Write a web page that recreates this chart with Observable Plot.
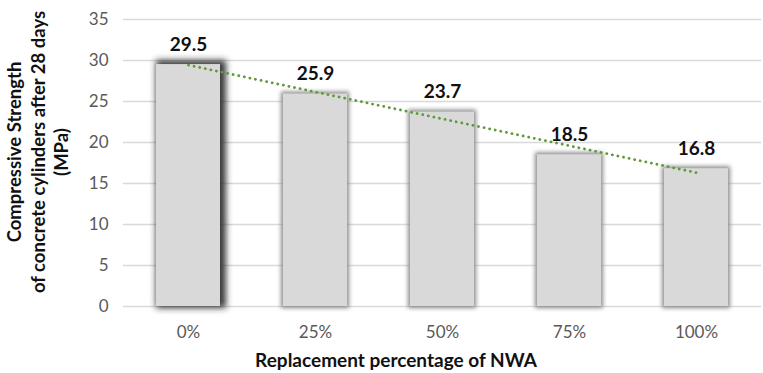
<!DOCTYPE html>
<html>
<head>
<meta charset="utf-8">
<script src="https://cdn.jsdelivr.net/npm/d3@7"></script>
<script src="https://cdn.jsdelivr.net/npm/@observablehq/plot@0.6"></script>
<style>
  html, body { margin: 0; padding: 0; background: #fff; }
  #chart svg { display: block; font-family: Lato, "Open Sans", sans-serif; }
</style>
</head>
<body>
<div id="chart"></div>
<script>
// Replacement levels of NWA and the 28-day compressive strength of the cylinders
const replacement = ["0%", "25%", "50%", "75%", "100%"];
const strength = [29.5, 25.9, 23.7, 18.5, 16.8];
const yTicks = [0, 5, 10, 15, 20, 25, 30, 35];

const rows = replacement.map((r, i) => ({r, v: strength[i], i}));

// Least-squares linear trendline over the bar index
const mx = d3.mean(rows, d => d.i), my = d3.mean(rows, d => d.v);
const slope = d3.sum(rows, d => (d.i - mx) * (d.v - my)) / d3.sum(rows, d => (d.i - mx) ** 2);
const trend = rows.map(d => ({r: d.r, t: my + slope * (d.i - mx)}));

const chart = Plot.plot({
  width: 763,
  height: 373,
  marginLeft: 123,
  marginRight: 2,
  marginTop: 19,
  marginBottom: 67,
  x: {domain: replacement, paddingInner: 0.5, paddingOuter: 0.25, label: null},
  y: {domain: [0, 35], label: null},
  marks: [
    Plot.gridY(yTicks, {stroke: "#d9d9d9", strokeOpacity: 1, strokeWidth: 1.6}),
    Plot.barY(rows, {x: "r", y: "v", fill: "#d9d9d9"}),
    Plot.line(trend, {x: "r", y: "t", stroke: "#5e9a3a", strokeWidth: 2.8,
      strokeDasharray: "0.1 5.6", strokeLinecap: "round"}),
    Plot.text(rows, {x: "r", y: "v", text: d => d.v.toFixed(1), dy: -20,
      fontSize: 19, fontWeight: "bold", fill: "#111"}),
    Plot.axisY(yTicks, {tickSize: 0, tickPadding: 15, fontSize: 17, color: "#595959", label: null}),
    Plot.axisX({tickSize: 0, tickPadding: 19, fontSize: 17, color: "#595959", label: null})
  ]
});

document.getElementById("chart").append(chart);

const svg = d3.select(chart);
const defs = svg.insert("defs", ":first-child");

// soft grey halo around the bars
const glow = defs.append("filter").attr("id", "barGlow")
  .attr("x", "-30%").attr("y", "-30%").attr("width", "160%").attr("height", "160%");
glow.append("feMorphology").attr("in", "SourceAlpha").attr("operator", "dilate").attr("radius", 1.5).attr("result", "d");
glow.append("feGaussianBlur").attr("in", "d").attr("stdDeviation", 2).attr("result", "b");
glow.append("feFlood").attr("flood-color", "#8c8c8c").attr("flood-opacity", 1);
glow.append("feComposite").attr("in2", "b").attr("operator", "in").attr("result", "s");
const gm = glow.append("feMerge");
gm.append("feMergeNode").attr("in", "s");
gm.append("feMergeNode").attr("in", "SourceGraphic");

// darker drop shadow for the reference mix
const shadow = defs.append("filter").attr("id", "barShadow")
  .attr("x", "-30%").attr("y", "-30%").attr("width", "160%").attr("height", "160%");
shadow.append("feMorphology").attr("in", "SourceAlpha").attr("operator", "dilate").attr("radius", 2.5).attr("result", "d");
shadow.append("feOffset").attr("in", "d").attr("dx", 2.5).attr("dy", -1.5).attr("result", "o");
shadow.append("feGaussianBlur").attr("in", "o").attr("stdDeviation", 3.2).attr("result", "b");
shadow.append("feFlood").attr("flood-color", "#262626").attr("flood-opacity", 0.9);
shadow.append("feComposite").attr("in2", "b").attr("operator", "in").attr("result", "s");
const sm = shadow.append("feMerge");
sm.append("feMergeNode").attr("in", "s");
sm.append("feMergeNode").attr("in", "SourceGraphic");

svg.selectAll('g[aria-label="bar"] rect')
  .attr("filter", (d, k) => k === 0 ? "url(#barShadow)" : "url(#barGlow)");

// axis titles
svg.append("text")
  .attr("transform", "translate(396,367)")
  .attr("text-anchor", "middle")
  .attr("font-size", 19).attr("font-weight", "bold").attr("fill", "#111")
  .text("Replacement percentage of NWA");

const yTitle = ["Compressive Strength", "of concrete cylinders after 28 days", "(MPa)"];
const yt = svg.append("text")
  .attr("transform", "translate(21,152) rotate(-90)")
  .attr("text-anchor", "middle")
  .attr("font-size", 18.5).attr("font-weight", "bold").attr("fill", "#111");
yTitle.forEach((line, k) => {
  yt.append("tspan").attr("x", 0).attr("y", k * 23.5).text(line);
});
</script>
</body>
</html>
